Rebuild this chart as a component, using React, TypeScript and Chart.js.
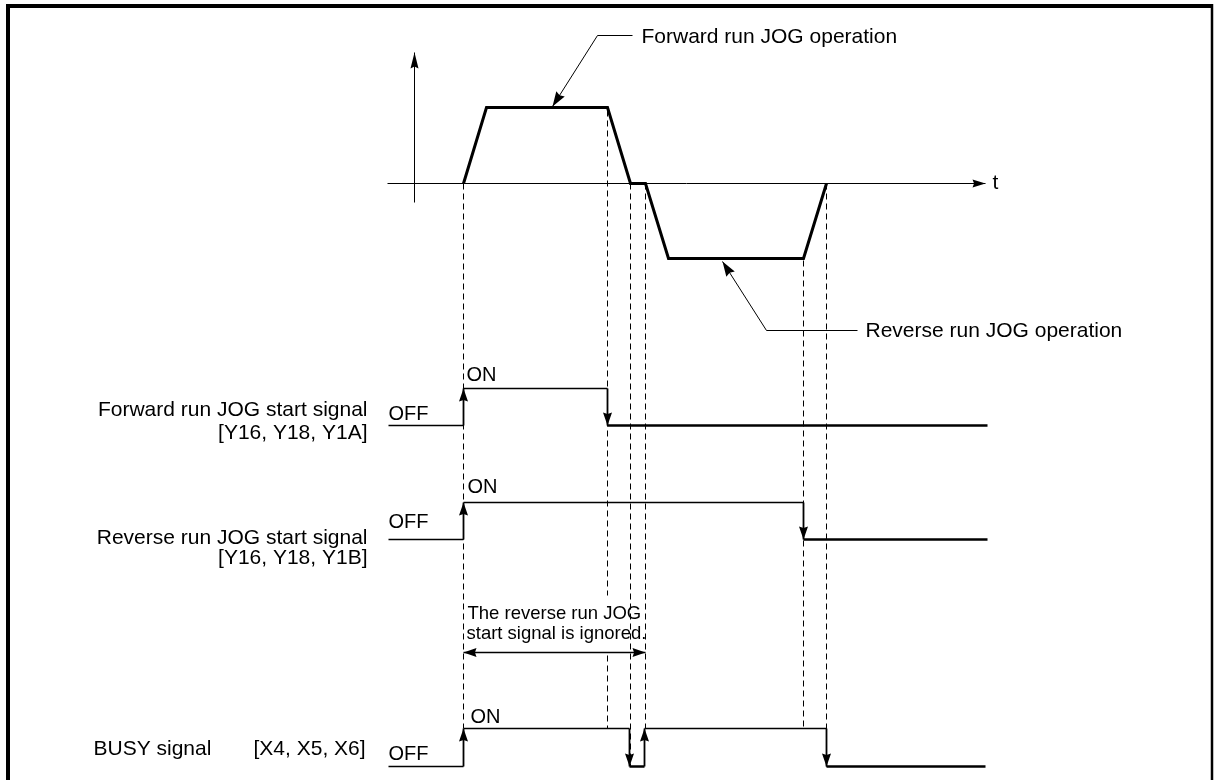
import React, { useEffect, useRef } from "react";
import { Chart, registerables } from "chart.js";

Chart.register(...registerables);

// ---- Diagram data (picture units: x = time position, y = vertical level) ----
const W = 1215;
const H = 780;

// Speed profile (forward run then reverse run)
const speedX = [463, 486, 607, 630, 645, 668, 803, 826];
const speedY = [183, 107, 107, 183, 183, 258, 258, 183];

// Axes
const tAxisX = [387, 985];
const tAxisY = 183;
const vAxisX = 414;
const vAxisY = [202, 52];

// Signals: edge times, levels
const fwdEdges = [463, 607];
const fwdLevels = { low: 425, high: 388, start: 388, end: 987 };
const revEdges = [463, 803];
const revLevels = { low: 539, high: 502, start: 388, end: 987 };
const busyEdges = [463, 629, 644, 826];
const busyLevels = { low: 766, high: 728, start: 388, end: 985 };

// Dashed guide lines: x, [yStart, yEnd]
const guideX = [463, 607, 607, 630, 645, 803, 826];
const guideFrom = [183, 110, 655, 183, 183, 260, 183];
const guideTo = [728, 595, 728, 766, 728, 728, 766];

// Leader lines
const fwdLeaderX = [632, 597, 552];
const fwdLeaderY = [35, 35, 106];
const revLeaderX = [857, 766, 722];
const revLeaderY = [330, 330, 261];

// "ignored" span
const ignoredX = [463, 645];
const ignoredY = 652;

// Texts
const labelText = [
  "Forward run JOG operation",
  "t",
  "Reverse run JOG operation",
  "ON",
  "Forward run JOG start signal",
  "[Y16, Y18, Y1A]",
  "OFF",
  "ON",
  "OFF",
  "Reverse run JOG start signal",
  "[Y16, Y18, Y1B]",
  "The reverse run JOG",
  "start signal is ignored.",
  "ON",
  "BUSY signal",
  "[X4, X5, X6]",
  "OFF",
];
const labelX = [641, 992, 865, 466, 367, 367, 388, 467, 388, 367, 367, 467, 466, 470, 93, 253, 388];
const labelY = [37, 183, 331, 375, 410, 433, 414, 487, 522, 538, 558, 613, 633, 717, 749, 749, 754];
const labelAlign = ["left", "left", "left", "left", "right", "right", "left", "left", "left", "right", "right", "left", "left", "left", "left", "left", "left"];
const labelSize = [21, 21, 21, 20, 21, 21, 20, 20, 20, 21, 21, 18.5, 18.5, 20, 21, 21, 20];

// ---------------------------------------------------------------------------

type Pt = { x: number; y: number };
const pts = (xs: number[], ys: number[]): Pt[] => xs.map((x, i) => ({ x, y: ys[i] }));

function line(data: Pt[], width: number, extra: any = {}) {
  return {
    data,
    showLine: true,
    borderColor: "#000",
    backgroundColor: "#000",
    borderWidth: width,
    pointRadius: 0,
    pointHoverRadius: 0,
    fill: false,
    tension: 0,
    ...extra,
  };
}

function signalDatasets(edges: number[], lv: { low: number; high: number; start: number; end: number }) {
  const ds: any[] = [];
  let prevX = lv.start;
  let level = "low";
  edges.forEach((ex, i) => {
    const y = level === "low" ? lv.low : lv.high;
    const w = level === "high" ? 1.3 : i === 0 ? 1.6 : 2.5;
    ds.push(line([{ x: prevX, y }, { x: ex, y }], w));
    const ny = level === "low" ? lv.high : lv.low;
    ds.push(line([{ x: ex, y }, { x: ex, y: ny }], 1.8, { arrowEnd: true }));
    level = level === "low" ? "high" : "low";
    prevX = ex;
  });
  const fy = level === "low" ? lv.low : lv.high;
  ds.push(line([{ x: prevX, y: fy }, { x: lv.end, y: fy }], level === "low" ? 2.6 : 1.3));
  return ds;
}

const arrowPlugin = {
  id: "arrowheads",
  afterDatasetsDraw(chart: any) {
    const ctx = chart.ctx;
    const xs = chart.scales.x;
    const ys = chart.scales.y;
    chart.data.datasets.forEach((d: any) => {
      const draw = (tip: Pt, from: Pt, len: number, half: number) => {
        const tx = xs.getPixelForValue(tip.x);
        const ty = ys.getPixelForValue(tip.y);
        const fx = xs.getPixelForValue(from.x);
        const fy = ys.getPixelForValue(from.y);
        const a = Math.atan2(ty - fy, tx - fx);
        ctx.save();
        ctx.fillStyle = "#000";
        ctx.beginPath();
        ctx.moveTo(tx, ty);
        ctx.lineTo(tx - len * Math.cos(a) + half * Math.sin(a), ty - len * Math.sin(a) - half * Math.cos(a));
        ctx.lineTo(tx - len * Math.cos(a) * 0.88, ty - len * Math.sin(a) * 0.88);
        ctx.lineTo(tx - len * Math.cos(a) - half * Math.sin(a), ty - len * Math.sin(a) + half * Math.cos(a));
        ctx.closePath();
        ctx.fill();
        ctx.restore();
      };
      const n = d.data.length;
      const len = d.arrowLen || 13;
      const half = d.arrowHalf || 4.5;
      if (d.arrowEnd) draw(d.data[n - 1], d.data[n - 2], len, half);
      if (d.arrowStart) draw(d.data[0], d.data[1], len, half);
    });
  },
};

const framePlugin = {
  id: "frameAndText",
  afterDraw(chart: any) {
    const ctx = chart.ctx;
    const xs = chart.scales.x;
    const ys = chart.scales.y;
    ctx.save();
    // frame
    ctx.strokeStyle = "#000";
    ctx.lineWidth = 4;
    ctx.beginPath();
    ctx.moveTo(8, H);
    ctx.lineTo(8, 6);
    ctx.lineTo(1212, 6);
    ctx.stroke();
    ctx.lineWidth = 2.5;
    ctx.beginPath();
    ctx.moveTo(1212, 4);
    ctx.lineTo(1212, H);
    ctx.stroke();
    // text
    ctx.fillStyle = "#000";
    ctx.textBaseline = "middle";
    labelText.forEach((t, i) => {
      ctx.font = `${labelSize[i]}px "Liberation Sans", Arial, sans-serif`;
      ctx.textAlign = labelAlign[i] as CanvasTextAlign;
      ctx.fillText(t, xs.getPixelForValue(labelX[i]), ys.getPixelForValue(labelY[i]));
    });
    ctx.restore();
  },
};

export default function App() {
  const ref = useRef<HTMLCanvasElement>(null);
  useEffect(() => {
    if (!ref.current) return;
    const datasets: any[] = [];
    // guides
    guideX.forEach((gx, i) => {
      datasets.push(line([{ x: gx, y: guideFrom[i] }, { x: gx, y: guideTo[i] }], 1, { borderDash: [6, 4] }));
    });
    // axes
    datasets.push(line([{ x: tAxisX[0], y: tAxisY }, { x: tAxisX[1], y: tAxisY }], 1, { arrowEnd: true, arrowLen: 13, arrowHalf: 4 }));
    datasets.push(line([{ x: vAxisX, y: vAxisY[0] }, { x: vAxisX, y: vAxisY[1] }], 1, { arrowEnd: true, arrowLen: 16, arrowHalf: 4 }));
    // speed profile
    datasets.push(line(pts(speedX, speedY), 3));
    // leaders
    datasets.push(line(pts(fwdLeaderX, fwdLeaderY), 1, { arrowEnd: true, arrowLen: 15, arrowHalf: 5 }));
    datasets.push(line(pts(revLeaderX, revLeaderY), 1, { arrowEnd: true, arrowLen: 15, arrowHalf: 5 }));
    // ignored span
    datasets.push(line([{ x: ignoredX[0], y: ignoredY }, { x: ignoredX[1], y: ignoredY }], 1.5, { arrowEnd: true, arrowStart: true }));
    // signals
    datasets.push(...signalDatasets(fwdEdges, fwdLevels));
    datasets.push(...signalDatasets(revEdges, revLevels));
    datasets.push(...signalDatasets(busyEdges, busyLevels));

    const chart = new Chart(ref.current, {
      type: "scatter",
      data: { datasets },
      options: {
        animation: false,
        responsive: false,
        devicePixelRatio: 1,
        layout: { padding: 0 },
        events: [],
        scales: {
          x: { type: "linear", min: -0.5, max: W - 0.5, display: false },
          y: { type: "linear", min: -0.5, max: H - 0.5, reverse: true, display: false },
        },
        plugins: { legend: { display: false }, tooltip: { enabled: false } },
      },
      plugins: [arrowPlugin, framePlugin],
    } as any);
    return () => chart.destroy();
  }, []);
  return (
    <div style={{ position: "fixed", left: 0, top: 0, width: W, height: H, background: "#fff" }}>
      <canvas ref={ref} width={W} height={H} style={{ display: "block" }} />
    </div>
  );
}
